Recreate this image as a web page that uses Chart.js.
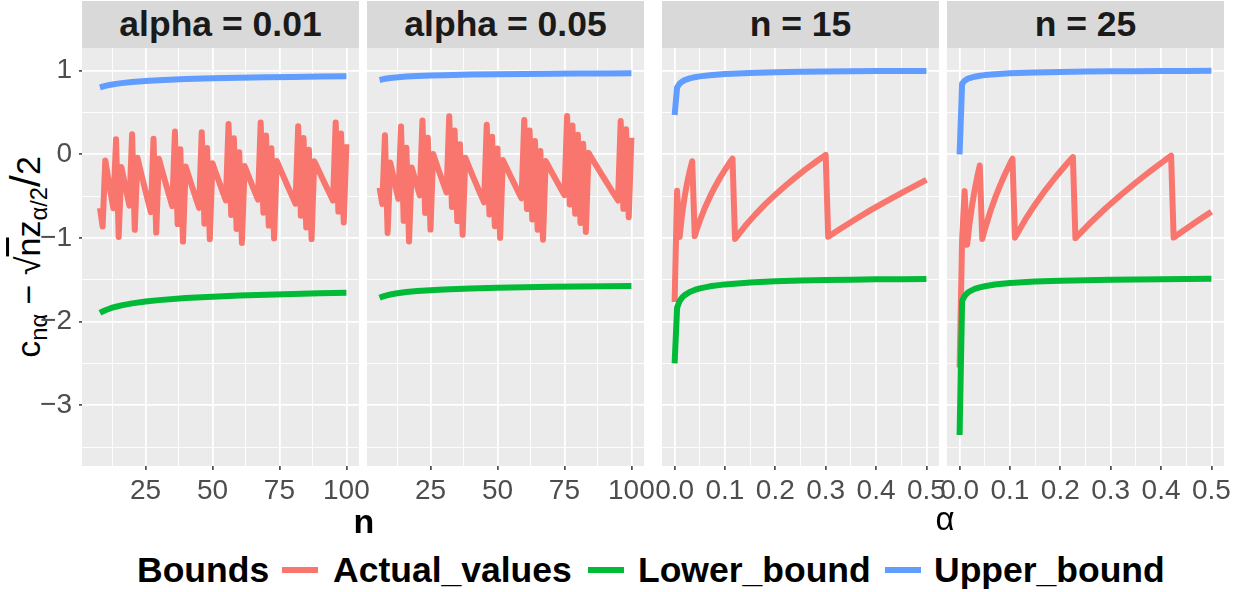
<!DOCTYPE html>
<html>
<head>
<meta charset="utf-8">
<script src="https://cdn.jsdelivr.net/npm/chart.js"></script>
<style>
  html, body { margin: 0; padding: 0; background: #ffffff; }
  body { width: 1240px; height: 592px; position: relative; overflow: hidden;
         font-family: "Liberation Sans", Arial, Helvetica, sans-serif; }
  .strip { position: absolute; top: 1px; height: 47px; background: #D9D9D9; color: #1A1A1A;
           font-weight: bold; font-size: 35.5px; line-height: 47px; text-align: center; white-space: nowrap; }
  .xtitle { position: absolute; transform: translate(-50%, -50%); white-space: nowrap; color: #000; line-height: 1; }
  #ytitle { position: absolute; left: 28px; top: 257px; transform: translate(-50%, -50%) rotate(-90deg);
            font-size: 34px; white-space: nowrap; color: #000; line-height: 1; }
  #ytitle sub { font-size: 0.7em; vertical-align: -0.3em; }
  #ytitle .ol { text-decoration: overline; }
  #ytitle .big { font-size: 1.25em; }
  .legtxt { position: absolute; top: 550px; height: 40px; line-height: 40px; font-weight: bold;
            font-size: 35.5px; color: #000; white-space: nowrap; }
  .legkey { position: absolute; top: 567px; width: 36px; height: 6px; }
</style>
</head>
<body>
<div id="ytitle">c<sub>nα</sub> − √<span class="ol">n</span>z<sub>α/2</sub><span class="big">/</span>2</div>
<script>
// ---------------- data ----------------
const N01 = [8,9,10,11,12,13,14,15,16,17,18,19,20,21,22,23,24,25,26,27,28,29,30,31,32,33,34,35,36,37,38,39,40,41,42,43,44,45,46,47,48,49,50,51,52,53,54,55,56,57,58,59,60,61,62,63,64,65,66,67,68,69,70,71,72,73,74,75,76,77,78,79,80,81,82,83,84,85,86,87,88,89,90,91,92,93,94,95,96,97,98,99,100];
const ACTUAL01 = [-0.643,-0.864,-0.073,-0.272,-0.461,-0.644,0.181,-0.988,-0.152,-0.310,-0.464,-0.614,0.240,-0.902,-0.041,-0.177,-0.309,-0.440,-0.567,-0.692,0.185,-0.936,-0.054,-0.171,-0.286,-0.398,-0.510,-0.619,0.273,-0.834,0.061,-1.043,-0.145,-0.247,-0.347,-0.445,-0.543,-0.640,0.265,-0.829,0.077,-1.015,-0.107,-0.198,-0.287,-0.376,-0.464,-0.551,0.362,-0.724,0.192,-0.893,0.024,-1.059,-0.141,-0.222,-0.303,-0.383,-0.463,-0.542,0.380,-0.698,0.225,-0.852,0.072,-1.004,-0.079,-0.154,-0.228,-0.301,-0.375,-0.447,-0.519,-0.591,0.337,-0.733,0.196,-0.874,0.056,-1.013,-0.082,-0.150,-0.218,-0.286,-0.353,-0.420,-0.487,-0.553,0.381,-0.684,0.250,-0.815,0.121];

const N05 = [6,7,8,9,10,11,12,13,14,15,16,17,18,19,20,21,22,23,24,25,26,27,28,29,30,31,32,33,34,35,36,37,38,39,40,41,42,43,44,45,46,47,48,49,50,51,52,53,54,55,56,57,58,59,60,61,62,63,64,65,66,67,68,69,70,71,72,73,74,75,76,77,78,79,80,81,82,83,84,85,86,87,88,89,90,91,92,93,94,95,96,97,98,99,100];
const ACTUAL05 = [-0.400,-0.593,0.228,-0.940,-0.099,-0.250,-0.395,-0.533,0.333,-0.795,0.080,-1.041,-0.158,-0.272,-0.383,-0.491,0.403,-0.700,0.199,-0.900,0.003,-0.092,-0.186,-0.277,-0.368,-0.456,0.456,-0.630,0.286,-0.798,0.120,-0.961,-0.041,-0.120,-0.198,-0.275,-0.351,-0.426,-0.500,-0.574,0.353,-0.718,0.210,-0.860,0.070,-0.998,-0.067,-0.134,-0.201,-0.268,-0.333,-0.399,-0.463,-0.527,0.409,-0.654,0.284,-0.778,0.160,-0.901,0.039,-1.021,-0.081,-0.140,-0.199,-0.257,-0.315,-0.373,-0.430,-0.487,0.457,-0.599,0.345,-0.710,0.235,-0.820,0.126,-0.928,0.018,-0.035,-0.088,-0.141,-0.193,-0.245,-0.297,-0.348,-0.400,-0.451,-0.501,-0.552,0.398,-0.652,0.299,-0.751,0.200];

const BN01 = [8,9,10,12,14,16,20,25,30,40,50,60,70,80,90,100];
const UPPER01 = [0.800,0.809,0.818,0.831,0.842,0.851,0.865,0.877,0.886,0.899,0.908,0.915,0.921,0.925,0.929,0.932];
const LOWER01 = [-1.895,-1.878,-1.864,-1.840,-1.822,-1.806,-1.782,-1.760,-1.743,-1.719,-1.702,-1.689,-1.678,-1.670,-1.662,-1.656];

const BN05 = [6,7,8,10,12,14,16,20,25,30,40,50,60,70,80,90,100];
const UPPER05 = [0.889,0.896,0.903,0.912,0.919,0.924,0.929,0.936,0.942,0.946,0.953,0.958,0.961,0.964,0.966,0.967,0.969];
const LOWER05 = [-1.715,-1.702,-1.692,-1.676,-1.664,-1.655,-1.647,-1.635,-1.624,-1.616,-1.603,-1.595,-1.588,-1.583,-1.579,-1.576,-1.573];

const A15 = [0.000061,0.005,0.01,0.015,0.02,0.025,0.03,0.035,0.04,0.045,0.05,0.06,0.07,0.08,0.09,0.10,0.11,0.115,0.12,0.14,0.16,0.18,0.20,0.22,0.24,0.26,0.28,0.30,0.305,0.33,0.36,0.39,0.42,0.45,0.48,0.50];
const ACTUAL15 = [-1.765,-0.436,-0.988,-0.710,-0.505,-0.340,-0.202,-0.083,-0.977,-0.882,-0.796,-0.642,-0.509,-0.390,-0.283,-0.185,-0.095,-0.052,-1.011,-0.858,-0.721,-0.596,-0.482,-0.375,-0.275,-0.181,-0.092,-0.007,-0.986,-0.886,-0.773,-0.665,-0.562,-0.463,-0.368,-0.306];

const A25 = [0.00000006,0.005,0.01,0.015,0.02,0.025,0.03,0.035,0.04,0.045,0.05,0.06,0.07,0.08,0.09,0.10,0.105,0.11,0.13,0.15,0.17,0.19,0.21,0.225,0.23,0.26,0.29,0.32,0.35,0.38,0.40,0.42,0.425,0.45,0.475,0.50];
const ACTUAL25 = [-2.550,-1.018,-0.440,-1.081,-0.816,-0.604,-0.425,-0.271,-0.134,-1.012,-0.900,-0.702,-0.530,-0.377,-0.239,-0.112,-0.053,-0.996,-0.785,-0.599,-0.431,-0.277,-0.134,-0.033,-1.001,-0.816,-0.645,-0.486,-0.337,-0.195,-0.104,-0.016,-0.995,-0.889,-0.786,-0.686];

const BA15 = [0.000061,0.005,0.01,0.015,0.02,0.03,0.04,0.05,0.07,0.10,0.15,0.20,0.25,0.30,0.35,0.40,0.45,0.50];
const UPPER15 = [0.470,0.801,0.846,0.870,0.887,0.908,0.922,0.932,0.946,0.960,0.973,0.981,0.986,0.990,0.993,0.995,0.996,0.997];
const LOWER15 = [-2.500,-1.832,-1.753,-1.711,-1.683,-1.645,-1.621,-1.603,-1.578,-1.555,-1.532,-1.518,-1.509,-1.502,-1.498,-1.494,-1.492,-1.490];

const BA25 = [0.00000006,0.005,0.01,0.015,0.02,0.03,0.04,0.05,0.07,0.10,0.15,0.20,0.25,0.30,0.35,0.40,0.45,0.50];
const UPPER25 = [0.000,0.845,0.880,0.899,0.912,0.928,0.939,0.947,0.958,0.969,0.979,0.985,0.989,0.992,0.994,0.996,0.997,0.998];
const LOWER25 = [-3.355,-1.754,-1.693,-1.660,-1.638,-1.609,-1.590,-1.577,-1.557,-1.539,-1.521,-1.511,-1.504,-1.499,-1.495,-1.492,-1.490,-1.489];

const Y_TICKS = [-3.5,-3,-2.5,-2,-1.5,-1,-0.5,0,0.5,1];
const N_TICKS = [12.5,25,37.5,50,62.5,75,87.5,100];
const A_TICKS = [0,0.05,0.1,0.15,0.2,0.25,0.3,0.35,0.4,0.45,0.5];
const STRIPS = ['alpha = 0.01','alpha = 0.05','n = 15','n = 25'];
const LEGEND_TITLE = 'Bounds';
const LEGEND_KEYS = ['Actual_values','Lower_bound','Upper_bound'];
const X_TITLES = ['n','\u03B1'];

// ---------------- layout / style ----------------
const COLORS = {Actual_values:'#F8766D', Lower_bound:'#00BA38', Upper_bound:'#619CFF'};
const Y_MIN = -3.726, Y_MAX = 1.271;
const N_MIN = 1.3, N_MAX = 104.7;
const A_MIN = -0.025, A_MAX = 0.525;
const PANEL_LEFTS = [82, 367, 662, 947];
const PANEL_TOP = 48, PANEL_H = 418, PANEL_W = 277;
const Y_AXIS_W = 82, AXIS_H = 50, SIDE_PAD = 30, TOP_PAD = 12;
const TICK_FONT = {family: '"Liberation Sans", Arial, sans-serif', size: 28};

const pts = (xs, ys) => xs.map((x, i) => ({x: x, y: ys[i]}));
function ds(xs, ys, key, order) {
  return {label: key, data: pts(xs, ys), borderColor: COLORS[key], backgroundColor: COLORS[key],
          borderWidth: 6, pointRadius: 0, pointHoverRadius: 0, borderCapStyle: 'butt',
          borderJoinStyle: 'round', tension: 0, fill: false, order: order, clip: 0};
}

const bgPlugin = {
  id: 'panelBg',
  beforeDraw(chart) {
    const a = chart.chartArea, ctx = chart.ctx;
    ctx.save();
    ctx.fillStyle = '#EBEBEB';
    ctx.fillRect(a.left, a.top, a.right - a.left, a.bottom - a.top);
    ctx.restore();
  }
};

function zeroPad(s) { s.paddingTop = 0; s.paddingBottom = 0; s.paddingLeft = 0; s.paddingRight = 0; }
const isInt = v => Math.abs(v - Math.round(v)) < 1e-9;
function yAxis(show) {
  return {
    type: 'linear', position: 'left', min: Y_MIN, max: Y_MAX,
    afterBuildTicks: s => { s.ticks = Y_TICKS.map(v => ({value: v})); },
    afterFit: s => { s.width = show ? Y_AXIS_W : 0; zeroPad(s); },
    border: {display: false},
    grid: {
      color: '#FFFFFF',
      lineWidth: c => (c.tick && isInt(c.tick.value)) ? 1.8 : 0.9,
      drawTicks: show, tickLength: 3, tickWidth: 1.5,
      tickColor: c => (c.tick && isInt(c.tick.value)) ? '#333333' : 'rgba(0,0,0,0)'
    },
    ticks: {
      display: show, padding: 7, color: '#4D4D4D', font: TICK_FONT, autoSkip: false,
      callback: v => isInt(v) ? (v < 0 ? '\u2212' + Math.abs(v) : String(v)) : ''
    }
  };
}
function xAxis(min, max, ticks, isMajor, fmt) {
  return {
    type: 'linear', position: 'bottom', min: min, max: max,
    afterBuildTicks: s => { s.ticks = ticks.map(v => ({value: v})); },
    afterFit: s => { s.height = AXIS_H; zeroPad(s); },
    border: {display: false},
    grid: {
      color: '#FFFFFF',
      lineWidth: c => (c.tick && isMajor(c.tick.value)) ? 1.8 : 0.9,
      drawTicks: true, tickLength: 4, tickWidth: 1.5,
      tickColor: c => (c.tick && isMajor(c.tick.value)) ? '#333333' : 'rgba(0,0,0,0)'
    },
    ticks: {
      padding: 4, color: '#4D4D4D', font: TICK_FONT, autoSkip: false, maxRotation: 0, minRotation: 0,
      callback: v => isMajor(v) ? fmt(v) : ''
    }
  };
}
const nMajor = v => isInt(v / 25);
const aMajor = v => isInt(v * 10);

function makePanel(idx, showY, xCfg, datasets) {
  const left = PANEL_LEFTS[idx];
  const yw = showY ? Y_AXIS_W : 0;
  const padL = showY ? 0 : SIDE_PAD;
  const W = padL + yw + PANEL_W + SIDE_PAD;
  const H = TOP_PAD + PANEL_H + AXIS_H;
  const cv = document.createElement('canvas');
  cv.width = W; cv.height = H;
  Object.assign(cv.style, {position: 'absolute', left: (left - yw - padL) + 'px',
    top: (PANEL_TOP - TOP_PAD) + 'px', width: W + 'px', height: H + 'px'});
  document.body.appendChild(cv);
  const st = document.createElement('div');
  st.className = 'strip';
  st.style.left = left + 'px';
  st.style.width = PANEL_W + 'px';
  st.textContent = STRIPS[idx];
  document.body.appendChild(st);
  return new Chart(cv, {
    type: 'line',
    data: {datasets: datasets},
    options: {
      responsive: false, animation: false, devicePixelRatio: 1, events: [],
      layout: {autoPadding: false, padding: {left: padL, right: SIDE_PAD, top: TOP_PAD, bottom: 0}},
      plugins: {legend: {display: false}, tooltip: {enabled: false}},
      scales: {x: xCfg, y: yAxis(showY)}
    },
    plugins: [bgPlugin]
  });
}

const nFmt = v => String(v);
const aFmt = v => v.toFixed(1);

makePanel(0, true, xAxis(N_MIN, N_MAX, N_TICKS, nMajor, nFmt), [
  ds(N01, ACTUAL01, 'Actual_values', 3),
  ds(BN01, LOWER01, 'Lower_bound', 2),
  ds(BN01, UPPER01, 'Upper_bound', 1)
]);
makePanel(1, false, xAxis(N_MIN, N_MAX, N_TICKS, nMajor, nFmt), [
  ds(N05, ACTUAL05, 'Actual_values', 3),
  ds(BN05, LOWER05, 'Lower_bound', 2),
  ds(BN05, UPPER05, 'Upper_bound', 1)
]);
makePanel(2, false, xAxis(A_MIN, A_MAX, A_TICKS, aMajor, aFmt), [
  ds(A15, ACTUAL15, 'Actual_values', 3),
  ds(BA15, LOWER15, 'Lower_bound', 2),
  ds(BA15, UPPER15, 'Upper_bound', 1)
]);
makePanel(3, false, xAxis(A_MIN, A_MAX, A_TICKS, aMajor, aFmt), [
  ds(A25, ACTUAL25, 'Actual_values', 3),
  ds(BA25, LOWER25, 'Lower_bound', 2),
  ds(BA25, UPPER25, 'Upper_bound', 1)
]);

const xt1 = document.createElement('div');
xt1.className = 'xtitle';
Object.assign(xt1.style, {left: '364px', top: '521px', fontWeight: 'bold', fontSize: '34px'});
xt1.textContent = X_TITLES[0];
document.body.appendChild(xt1);
const xt2 = document.createElement('div');
xt2.className = 'xtitle';
Object.assign(xt2.style, {left: '945px', top: '518px', fontSize: '33px'});
xt2.textContent = X_TITLES[1];
document.body.appendChild(xt2);

const legTitle = document.createElement('div');
legTitle.className = 'legtxt';
legTitle.style.left = '137px';
legTitle.textContent = LEGEND_TITLE;
document.body.appendChild(legTitle);
const KEY_X = [282, 588, 885];
const TXT_X = [333, 638, 934];
LEGEND_KEYS.forEach((k, i) => {
  const key = document.createElement('div');
  key.className = 'legkey';
  key.style.left = KEY_X[i] + 'px';
  key.style.background = COLORS[k];
  document.body.appendChild(key);
  const t = document.createElement('div');
  t.className = 'legtxt';
  t.style.left = TXT_X[i] + 'px';
  t.textContent = k;
  document.body.appendChild(t);
});
</script>
</body>
</html>
